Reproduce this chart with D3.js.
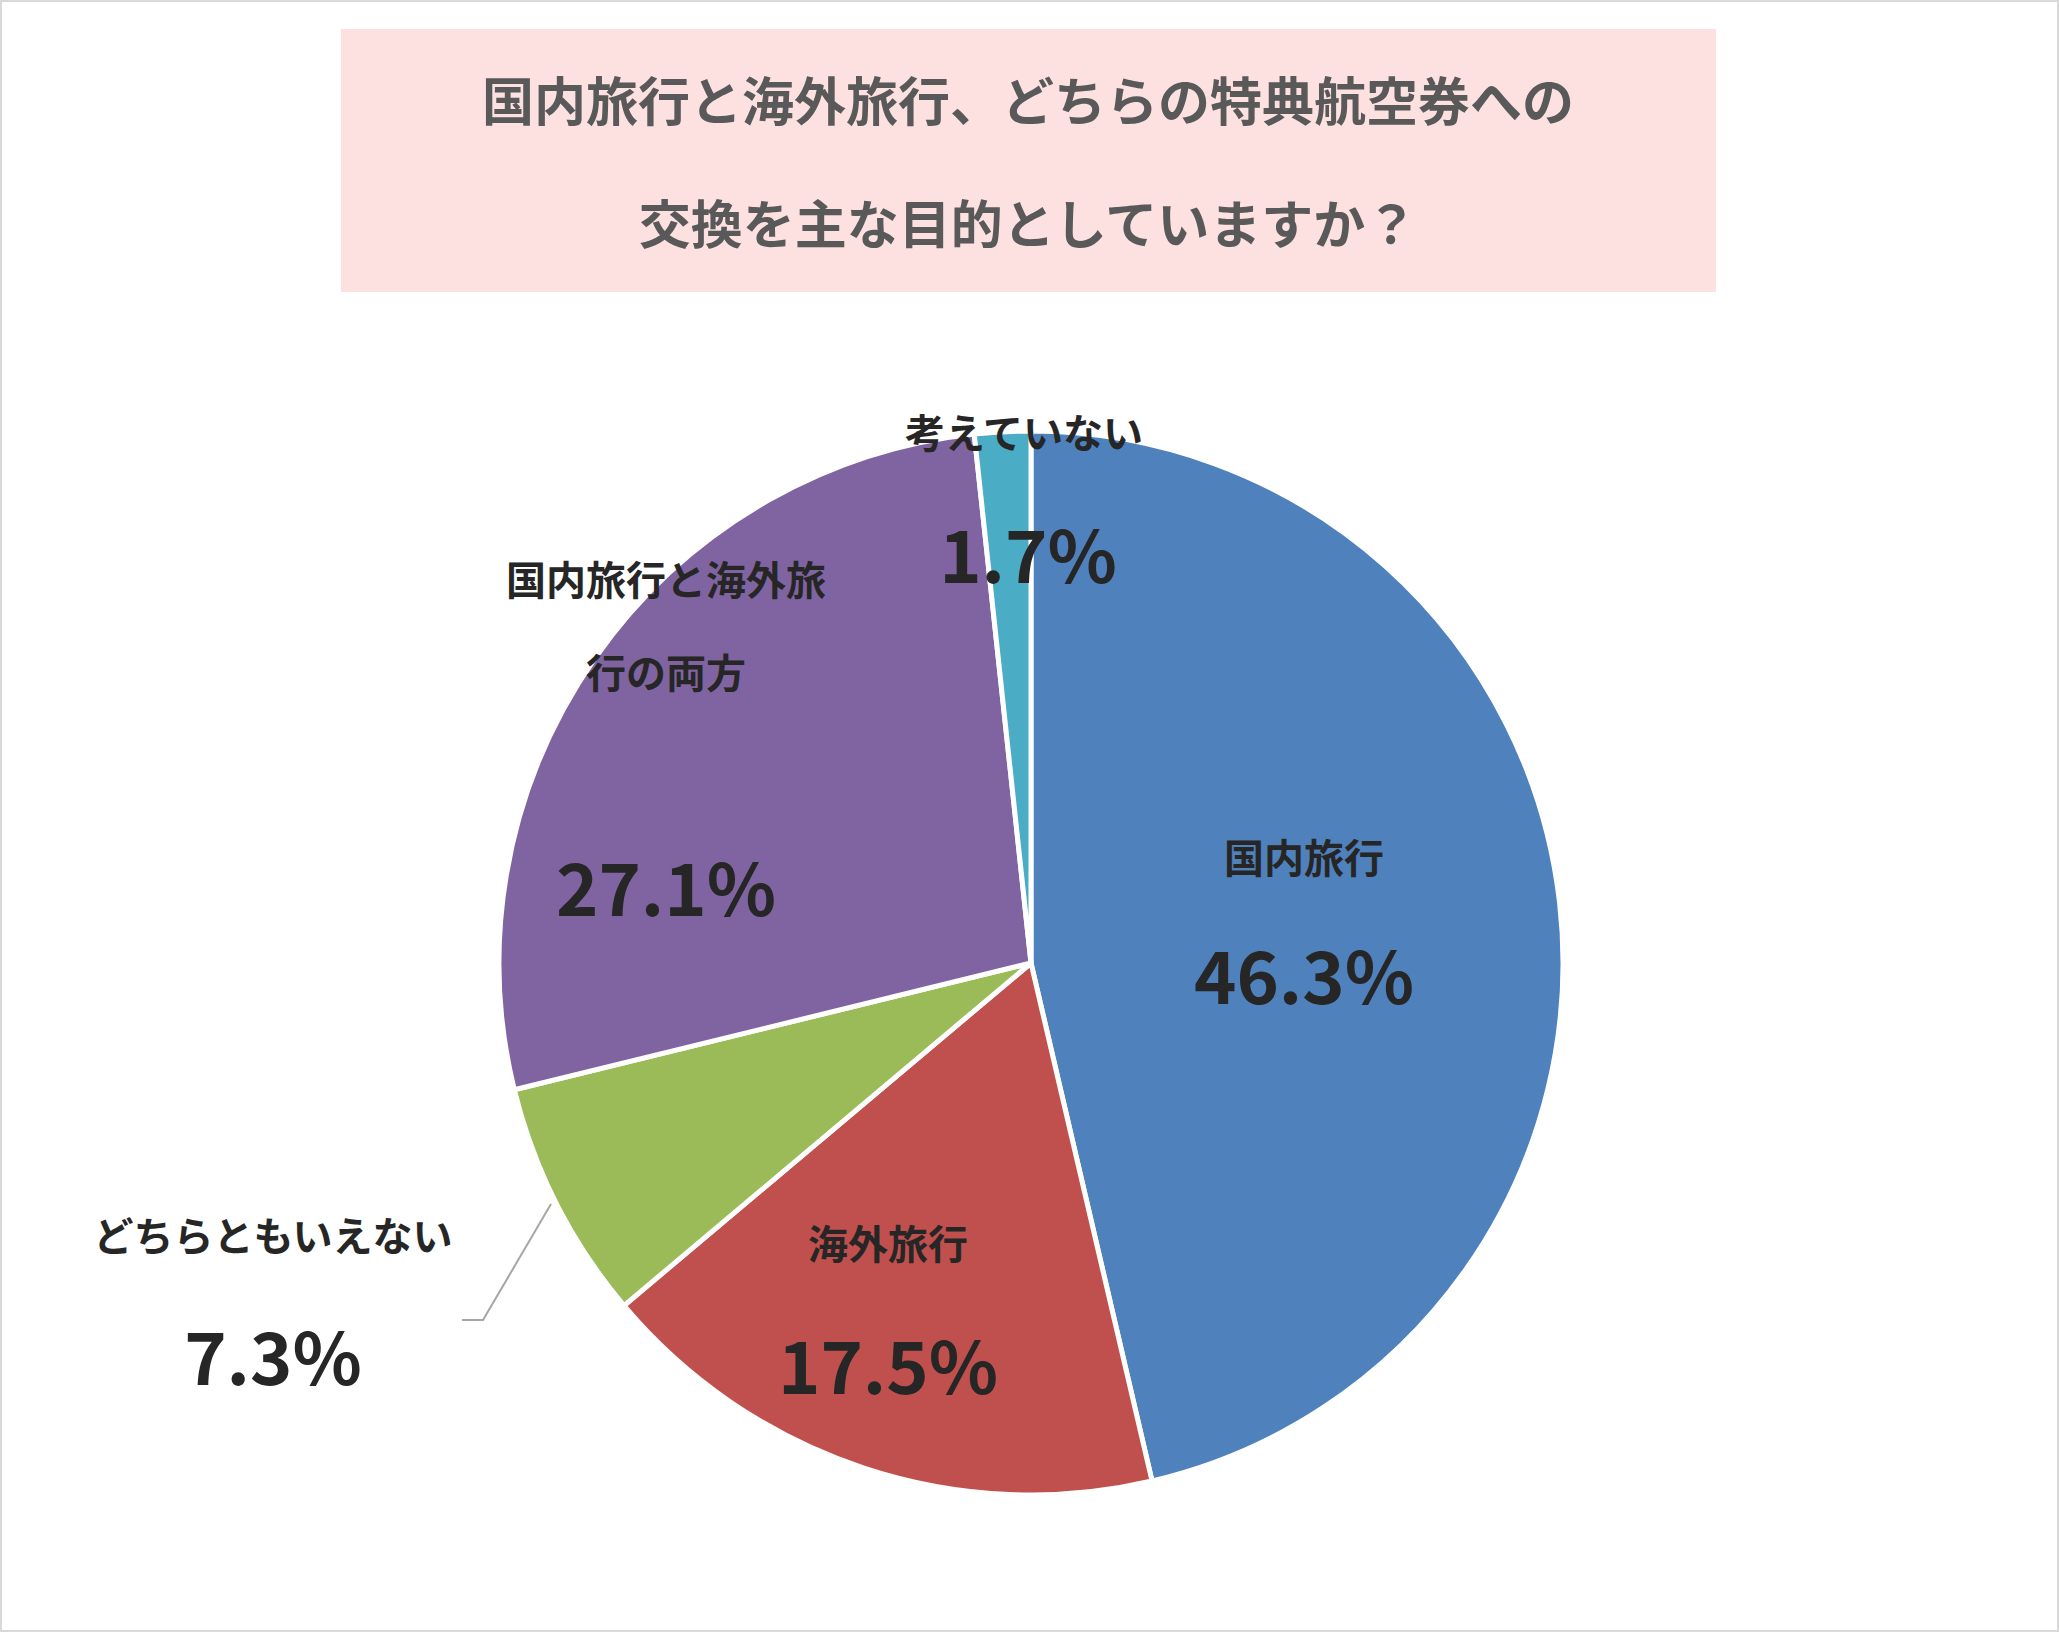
<!DOCTYPE html>
<html><head><meta charset="utf-8">
<script src="https://cdn.jsdelivr.net/npm/d3@7"></script>
<style>body{margin:0;background:#fff}svg{display:block}text{font-family:"Noto Sans CJK JP","Noto Sans",sans-serif;font-weight:bold}</style>
</head><body>
<script>
const categories=["国内旅行","海外旅行","どちらともいえない","国内旅行と海外旅行の両方","考えていない"];
const values=[46.3,17.5,7.3,27.1,1.7];
const colors=["#4F81BD","#C0504D","#9BBB59","#8064A2","#4BACC6"];
const labelLines=[["国内旅行"],["海外旅行"],["どちらともいえない"],["国内旅行と海外旅","行の両方"],["考えていない"]];
const labelPos=[[1304,856],[888,1242],[273,1234],[666,671],[1024,431]];
const pctPos=[[1304,972],[888,1362],[273,1353],[666,884],[1028,551]];
const W=2059,H=1632,cx=1031,cy=963,R=532;
const svg=d3.select("body").append("svg").attr("width",W).attr("height",H);
svg.append("rect").attr("x",1).attr("y",1).attr("width",W-2).attr("height",H-2).attr("fill","#fff").attr("stroke","#d9d9d9").attr("stroke-width",2);
svg.append("rect").attr("x",341).attr("y",29).attr("width",1375).attr("height",263).attr("fill","#FDE1E1");
const tt=["国内旅行と海外旅行、どちらの特典航空券への","交換を主な目的としていますか？"];
tt.forEach((t,i)=>svg.append("text").attr("x",1028).attr("y",98+i*123).attr("text-anchor","middle").attr("dominant-baseline","central").attr("font-size",52).attr("fill","#595959").text(t));
const pie=d3.pie().sort(null)(values);
const arc=d3.arc().innerRadius(0).outerRadius(R);
const g=svg.append("g").attr("transform",`translate(${cx},${cy})`);
g.selectAll("path").data(pie).join("path").attr("d",arc).attr("fill",(d,i)=>colors[i]).attr("stroke","#fff").attr("stroke-width",5);
svg.append("polyline").attr("points","551,1204 483,1320 462,1320").attr("fill","none").attr("stroke","#a6a6a6").attr("stroke-width",2);
values.forEach((v,i)=>{
  const L=labelLines[i];
  L.forEach((s,j)=>svg.append("text").attr("x",labelPos[i][0]).attr("y",labelPos[i][1]+(j-(L.length-1))*93).attr("text-anchor","middle").attr("dominant-baseline","central").attr("font-size",40).attr("fill","#262626").text(s));
  svg.append("text").attr("x",pctPos[i][0]).attr("y",pctPos[i][1]).attr("text-anchor","middle").attr("dominant-baseline","central").attr("font-size",72).attr("fill","#262626").text(v.toFixed(1)+"%");
});
</script>
</body></html>
